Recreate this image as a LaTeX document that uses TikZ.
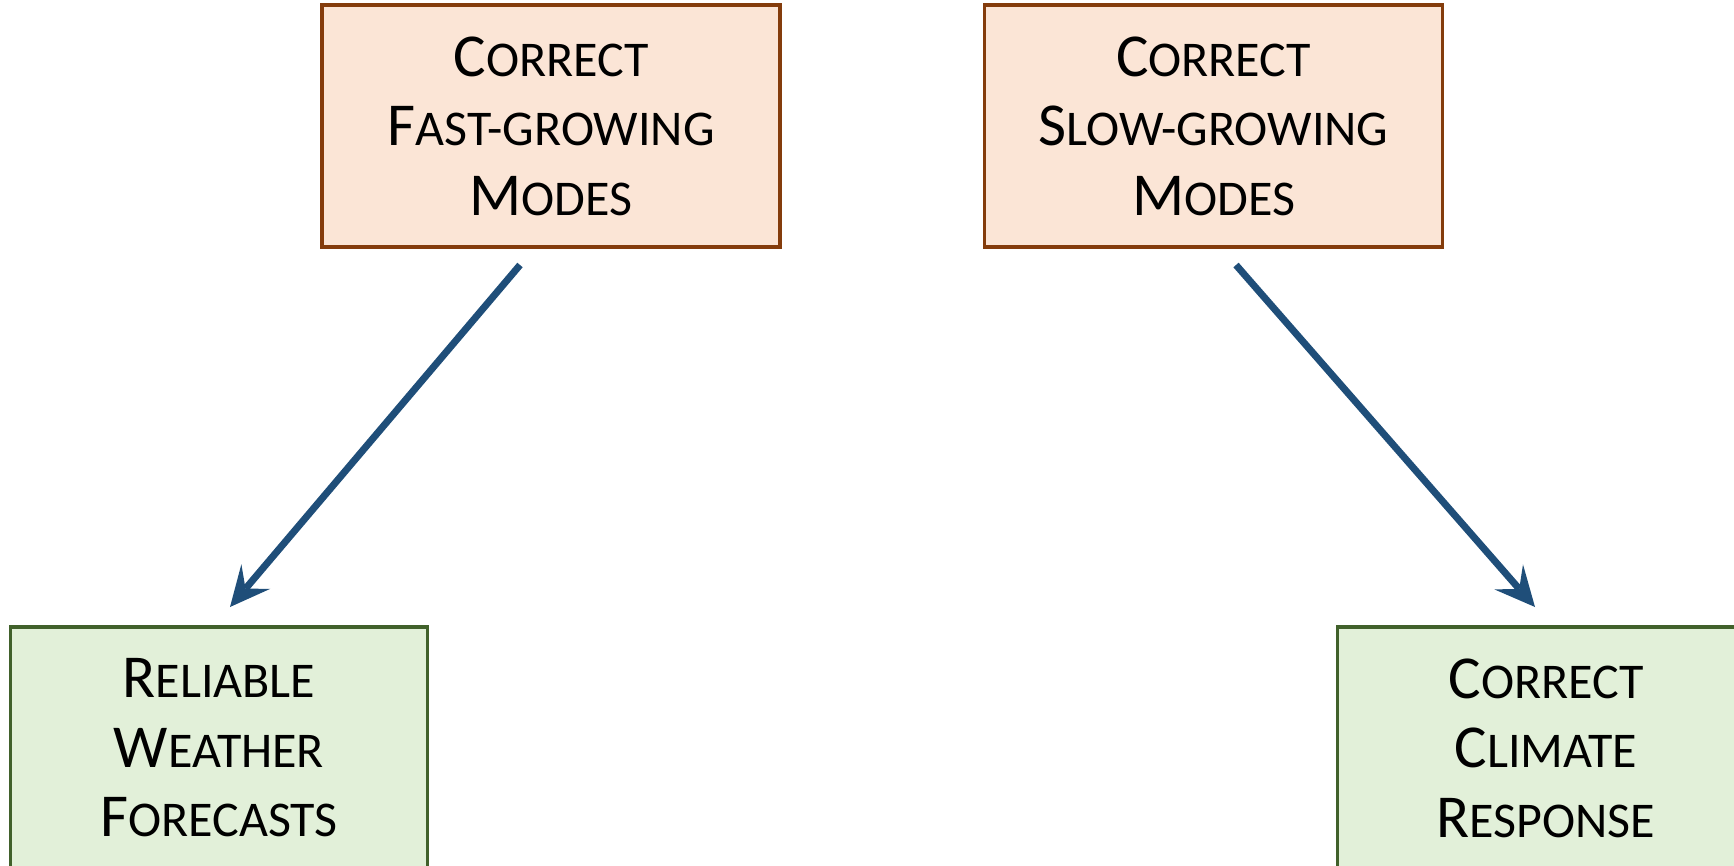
\documentclass[tikz,border=0pt]{standalone}
\usepackage{fontspec}
\setmainfont{Carlito}
\usetikzlibrary{arrows.meta}
\definecolor{topfill}{HTML}{FBE5D6}
\definecolor{topdraw}{HTML}{843C0C}
\definecolor{botfill}{HTML}{E2F0D9}
\definecolor{botdraw}{HTML}{41612B}
\definecolor{arrowc}{HTML}{1F4E79}
\newcommand{\BigL}[1]{{\fontsize{61}{69.5}\selectfont #1}}
\tikzset{
  boxbase/.style={rectangle, line width=3.5pt, minimum height=242pt, align=center,
    inner sep=0pt, font=\fontsize{50}{69.5}\selectfont},
  topbox/.style={boxbase, fill=topfill, draw=topdraw, minimum width=458pt},
  botbox/.style={boxbase, fill=botfill, draw=botdraw, minimum width=417pt},
  conn/.style={draw=arrowc, line width=7pt,
    -{Stealth[length=40pt, width=38pt, inset=16pt, round=false, line width=0pt]}}
}
\begin{document}
\begin{tikzpicture}[x=1pt, y=-1pt]
\useasboundingbox (0,0) rectangle (1734,865);
\clip (0,0) rectangle (1734,865);
\node[topbox] (fast) at (551,126) {\BigL{C}ORRECT\\\BigL{F}AST-GROWING\\\BigL{M}ODES};
\node[topbox] (slow) at (1213.5,126) {\BigL{C}ORRECT\\\BigL{S}LOW-GROWING\\\BigL{M}ODES};
\node[botbox] (weather) at (219,748) {\BigL{R}ELIABLE\\\BigL{W}EATHER\\\BigL{F}ORECASTS};
\node[botbox] (climate) at (1546,748) {\BigL{C}ORRECT\\\BigL{C}LIMATE\\\BigL{R}ESPONSE};
\coordinate (s1) at (520,265);
\coordinate (e1) at (230,607);
\coordinate (s2) at (1236,265);
\coordinate (e2) at (1535,607);
\draw[conn] (s1) -- (e1);
\draw[conn] (s2) -- (e2);
\end{tikzpicture}
\end{document}
